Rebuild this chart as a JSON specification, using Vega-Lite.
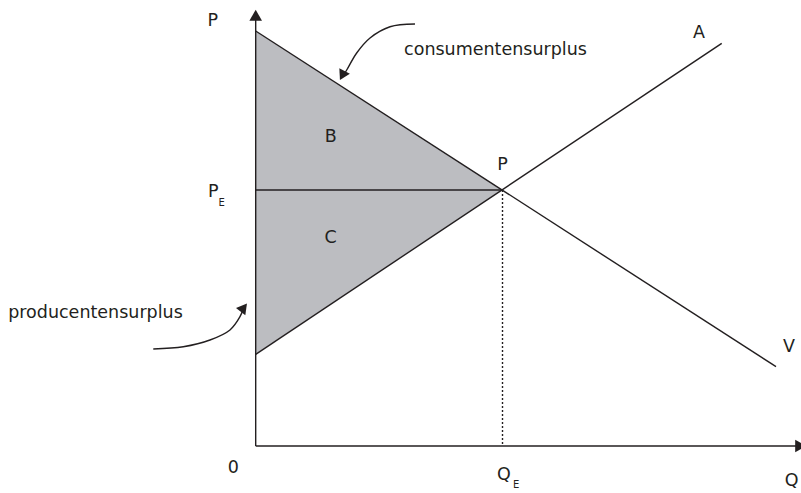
{
  "$schema": "https://vega.github.io/schema/vega-lite/v6.json",
  "width": 801,
  "height": 493,
  "autosize": {"type": "none"},
  "padding": 0,
  "background": "white",
  "config": {"view": {"stroke": null}},
  "datasets": {
    "tri": [
      {"q": 0, "top": 8.105, "bot": 1.791},
      {"q": 5, "top": 5, "bot": 5}
    ],
    "segs": [
      {"seg": "yaxis", "o": 0, "q": 0, "p": 0},
      {"seg": "yaxis", "o": 1, "q": 0, "p": 8.4},
      {"seg": "xaxis", "o": 0, "q": 0, "p": 0},
      {"seg": "xaxis", "o": 1, "q": 11.0, "p": 0},
      {"seg": "demand", "o": 0, "q": 0, "p": 8.105},
      {"seg": "demand", "o": 1, "q": 10.541, "p": 1.549},
      {"seg": "supply", "o": 0, "q": 0, "p": 1.791},
      {"seg": "supply", "o": 1, "q": 9.441, "p": 7.865},
      {"seg": "pe", "o": 0, "q": 0, "p": 5},
      {"seg": "pe", "o": 1, "q": 5, "p": 5}
    ],
    "dotted": [
      {"seg": "qe", "o": 0, "q": 5, "p": 5},
      {"seg": "qe", "o": 1, "q": 5, "p": 0}
    ],
    "curves": [
      {"seg": "cons", "o": 0, "q": 3.227, "p": 8.242},
      {"seg": "cons", "o": 1, "q": 2.721, "p": 8.189},
      {"seg": "cons", "o": 2, "q": 2.316, "p": 7.969},
      {"seg": "cons", "o": 3, "q": 2.046, "p": 7.676},
      {"seg": "cons", "o": 4, "q": 1.844, "p": 7.344},
      {"seg": "cons", "o": 5, "q": 1.774, "p": 7.236},
      {"seg": "prod", "o": 0, "q": -2.075, "p": 1.895},
      {"seg": "prod", "o": 1, "q": -1.467, "p": 1.939},
      {"seg": "prod", "o": 2, "q": -0.926, "p": 2.07},
      {"seg": "prod", "o": 3, "q": -0.521, "p": 2.266},
      {"seg": "prod", "o": 4, "q": -0.318, "p": 2.525},
      {"seg": "prod", "o": 5, "q": -0.26, "p": 2.66}
    ],
    "heads": [
      {"name": "yaxis", "q": 0, "p": 8.412, "ang": 0, "sz": 160},
      {"name": "xaxis", "q": 11.04, "p": 0, "ang": 90, "sz": 160},
      {"name": "cons", "q": 1.754, "p": 7.236, "ang": 207, "sz": 140},
      {"name": "prod", "q": -0.241, "p": 2.705, "ang": 38, "sz": 140}
    ],
    "labels": [
      {"txt": "P", "q": -0.871, "p": 8.307, "fs": 17.5},
      {"txt": "P", "q": -0.859, "p": 4.955, "fs": 17.5},
      {"txt": "E", "q": -0.689, "p": 4.752, "fs": 10},
      {"txt": "0", "q": -0.454, "p": -0.43, "fs": 17.5},
      {"txt": "Q", "q": 5.03, "p": -0.566, "fs": 17.5},
      {"txt": "E", "q": 5.274, "p": -0.762, "fs": 10},
      {"txt": "Q", "q": 10.855, "p": -0.69, "fs": 17.5},
      {"txt": "A", "q": 8.981, "p": 8.066, "fs": 17.5},
      {"txt": "V", "q": 10.804, "p": 1.924, "fs": 17.5},
      {"txt": "P", "q": 5.0, "p": 5.488, "fs": 17.5},
      {"txt": "B", "q": 1.519, "p": 6.029, "fs": 17.5},
      {"txt": "C", "q": 1.519, "p": 4.057, "fs": 17.5},
      {"txt": "consumentensurplus", "q": 4.858, "p": 7.734, "fs": 17.5},
      {"txt": "producentensurplus", "q": -3.246, "p": 2.598, "fs": 17.5}
    ]
  },
  "encoding": {
    "x": {"field": "q", "type": "quantitative", "scale": {"domain": [-5.18, 11.047], "nice": false, "zero": false}, "axis": null},
    "y": {"field": "p", "type": "quantitative", "scale": {"domain": [-0.918, 8.711], "nice": false, "zero": false}, "axis": null}
  },
  "layer": [
    {
      "data": {"name": "tri"},
      "mark": {"type": "area", "color": "#bcbdc1", "opacity": 1},
      "encoding": {
        "x": {"field": "q", "type": "quantitative"},
        "y": {"field": "top", "type": "quantitative"},
        "y2": {"field": "bot"}
      }
    },
    {
      "data": {"name": "segs"},
      "mark": {"type": "line", "color": "#231f20", "strokeWidth": 1.4},
      "encoding": {
        "detail": {"field": "seg", "type": "nominal"},
        "order": {"field": "o", "type": "quantitative"}
      }
    },
    {
      "data": {"name": "dotted"},
      "mark": {"type": "line", "color": "#231f20", "strokeWidth": 1.4, "strokeDash": [2, 2]},
      "encoding": {
        "order": {"field": "o", "type": "quantitative"}
      }
    },
    {
      "data": {"name": "curves"},
      "mark": {"type": "line", "color": "#231f20", "strokeWidth": 1.4, "interpolate": "catmull-rom"},
      "encoding": {
        "detail": {"field": "seg", "type": "nominal"},
        "order": {"field": "o", "type": "quantitative"}
      }
    },
    {
      "data": {"name": "heads"},
      "mark": {"type": "point", "shape": "triangle-up", "filled": true, "color": "#231f20", "opacity": 1},
      "encoding": {
        "angle": {"field": "ang", "type": "quantitative", "scale": null},
        "size": {"field": "sz", "type": "quantitative", "scale": null}
      }
    },
    {
      "data": {"name": "labels"},
      "mark": {"type": "text", "font": "DejaVu Sans", "color": "#231f20", "align": "center", "baseline": "middle"},
      "encoding": {
        "text": {"field": "txt", "type": "nominal"},
        "size": {"field": "fs", "type": "quantitative", "scale": null}
      }
    }
  ]
}
